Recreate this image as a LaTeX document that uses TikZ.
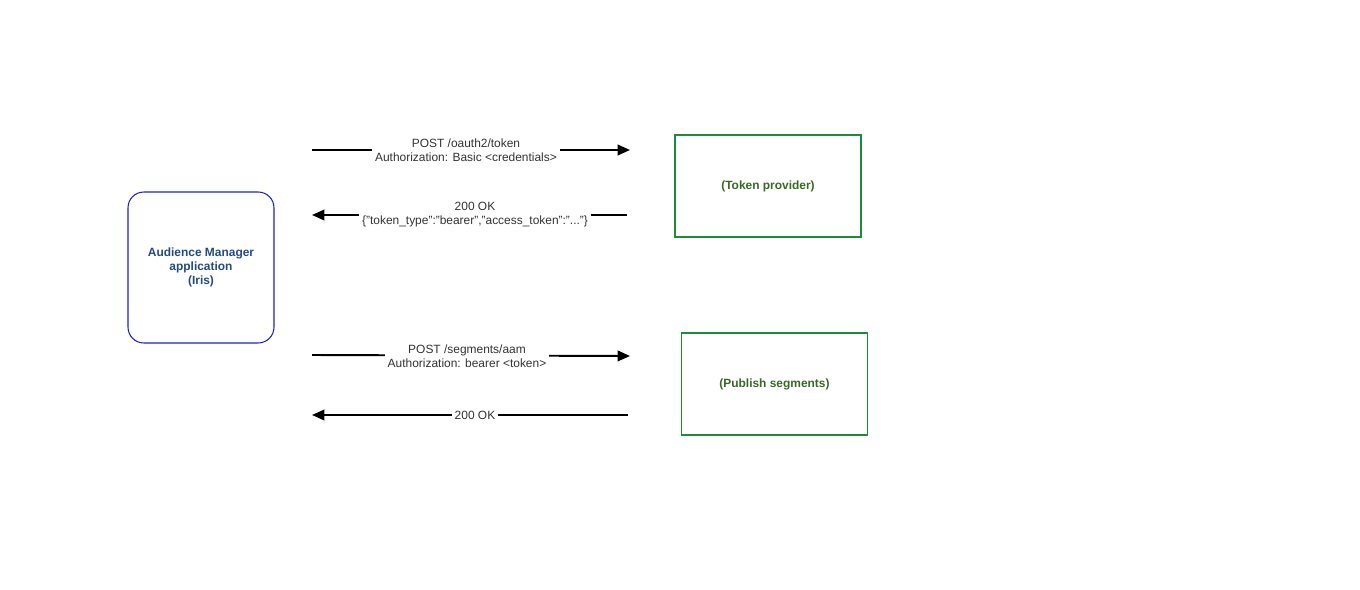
\documentclass[tikz,border=0pt]{standalone}
\usepackage{fontspec}
\setmainfont{Liberation Sans}
\usetikzlibrary{arrows.meta,positioning}

\definecolor{irisblue}{RGB}{30,30,210}
\definecolor{iristext}{RGB}{35,75,125}
\definecolor{boxgreen}{RGB}{30,140,60}
\definecolor{greentext}{RGB}{55,105,35}
\definecolor{msgtext}{RGB}{51,51,51}

\begin{document}
\begin{tikzpicture}[x=0.02cm, y=-0.02cm,
    msg/.style = {line width=1.1pt, -{Triangle[length=7pt, width=6pt]}},
    msglabel/.style = {fill=white, text=msgtext, font=\fontsize{6.8}{8}\selectfont, align=center, inner sep=1.5pt},
    server/.style = {draw=boxgreen, line width=0.6pt, minimum width=3.72cm, minimum height=2.04cm,
                     text=greentext, font=\fontsize{6.8}{8}\selectfont\bfseries}]
  \useasboundingbox (0,0) rectangle (1360,589);

  \node[draw=irisblue, line width=0.6pt, rounded corners=9pt, minimum width=2.92cm, minimum height=3.02cm,
        text=iristext, font=\fontsize{6.8}{8}\selectfont\bfseries, align=center] at (201,267.5)
  (iris) {Audience Manager\\application\\(Iris)};

  \node[server] at (768,186) (token) {(Token provider)};
  \node[server] at (774.5,384) (publish) {(Publish segments)};

  % token request / response
  \coordinate (req1s) at (312,150);
  \coordinate (req1e) at (630,150);
  \coordinate (res1s) at (627,215);
  \coordinate (res1e) at (312,215);

  \draw[msg] (req1s) -- (req1e);
  \node[msglabel] at (466,150) (req1) {POST /oauth2/token\\Authorization: Basic <credentials>};
  \draw[msg] (res1s) -- (res1e);
  \node[msglabel] at (475,215) (res1) {200 OK\\\{"token\_type":"bearer","access\_token":"..."\}};

  % publish request / response
  \coordinate (req2s) at (312,355);
  \coordinate (req2e) at (630,356);
  \coordinate (res2s) at (628,415);
  \coordinate (res2e) at (312,415);

  \draw[msg] (req2s) -- (req2e);
  \node[msglabel] at (467,356) (req2) {POST /segments/aam\\Authorization: bearer <token>};
  \draw[msg] (res2s) -- (res2e);
  \node[msglabel] at (475,415) (res2) {200 OK};
\end{tikzpicture}
\end{document}
